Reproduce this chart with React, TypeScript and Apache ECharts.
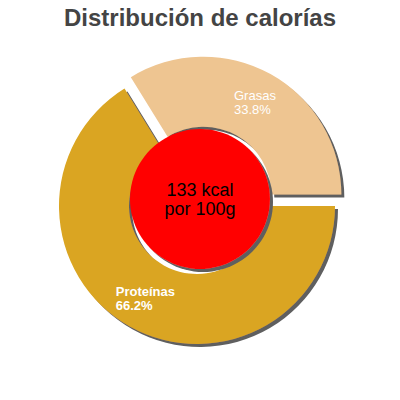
import React, { useEffect, useRef } from "react";
import * as echarts from "echarts";

const titleText = "Distribución de calorías";
const categories = ["Grasas", "Proteínas"];
const percentValues = [33.8, 66.2];
const sliceColors = ["#EEC591", "#DAA520"];
const labelWeights = ["normal", "bold"];
const kcalValue = 133;
const centerLabel = `${kcalValue} kcal\npor 100g`;

const FONT = "Liberation Sans, Arial, sans-serif";

export default function App() {
  const ref = useRef<HTMLDivElement>(null);
  useEffect(() => {
    document.body.style.margin = "0";
    const chart = echarts.init(ref.current!, null, { renderer: "svg" });
    const shadow = {
      shadowColor: "#5f5f5f",
      shadowBlur: 0,
      shadowOffsetX: 3,
      shadowOffsetY: 3,
    };
    chart.setOption({
      animation: false,
      backgroundColor: "#ffffff",
      title: {
        text: titleText,
        left: "center",
        top: 5,
        padding: 0,
        textStyle: {
          fontFamily: FONT,
          fontSize: 24,
          fontWeight: "bold",
          color: "#444444",
        },
      },
      series: [
        {
          type: "pie",
          center: [197, 206],
          radius: [68, 138],
          startAngle: 121.7,
          clockwise: true,
          selectedMode: "single",
          selectedOffset: 13,
          avoidLabelOverlap: false,
          emphasis: { disabled: true },
          labelLine: { show: false },
          label: {
            show: true,
            position: "inside",
            color: "#ffffff",
            fontFamily: FONT,
            fontSize: 13,
            lineHeight: 14,
            formatter: (p: any) => `{l|${p.name}}\n{l|${p.value}%}`,
          },
          itemStyle: { ...shadow },
          data: categories.map((name, i) => ({
            name,
            value: percentValues[i],
            selected: i === 0,
            itemStyle: { color: sliceColors[i], ...shadow },
            label: {
              rich: {
                l: {
                  align: "left",
                  color: "#ffffff",
                  fontFamily: FONT,
                  fontSize: 13,
                  lineHeight: 14,
                  fontWeight: labelWeights[i],
                },
              },
            },
          })),
          z: 1,
        },
        {
          type: "pie",
          center: [200, 199],
          radius: [0, 70],
          silent: true,
          emphasis: { disabled: true },
          labelLine: { show: false },
          label: {
            show: true,
            position: "center",
            formatter: centerLabel,
            color: "#000000",
            fontFamily: FONT,
            fontSize: 18,
            lineHeight: 19,
          },
          itemStyle: { color: "#ff0000", ...shadow },
          data: [{ name: "kcal", value: kcalValue }],
          z: 3,
        },
      ],
    });
    return () => chart.dispose();
  }, []);
  return (
    <div
      ref={ref}
      style={{ position: "fixed", left: 0, top: 0, width: 400, height: 400 }}
    />
  );
}
